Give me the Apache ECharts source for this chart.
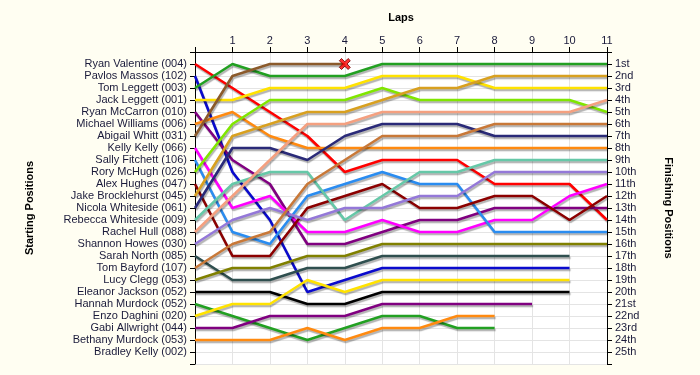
<!DOCTYPE html>
<html><head><meta charset="utf-8">
<script src="https://cdn.jsdelivr.net/npm/echarts@6/dist/echarts.min.js"></script>
<style>html,body{margin:0;padding:0;background:#FFFEF2}#c{width:700px;height:375px}</style>
</head><body><div id="c"></div>
<script>
const laps = [0,1,2,3,4,5,6,7,8,9,10,11];
const startNames = ['Ryan Valentine (004)','Pavlos Massos (102)','Tom Leggett (003)','Jack Leggett (001)','Ryan McCarron (010)','Michael Williams (006)','Abigail Whitt (031)','Kelly Kelly (066)','Sally Fitchett (106)','Rory McHugh (026)','Alex Hughes (047)','Jake Brocklehurst (045)','Nicola Whiteside (061)','Rebecca Whiteside (009)','Rachel Hull (088)','Shannon Howes (030)','Sarah North (085)','Tom Bayford (107)','Lucy Clegg (053)','Eleanor Jackson (052)','Hannah Murdock (052)','Enzo Daghini (020)','Gabi Allwright (044)','Bethany Murdock (053)','Bradley Kelly (002)'];
const finishLabels = ['1st','2nd','3rd','4th','5th','6th','7th','8th','9th','10th','11th','12th','13th','14th','15th','16th','17th','18th','19th','20th','21st','22nd','23rd','24th','25th'];

// positions per lap (index = lap number)
const ryanValentine    = [1,3,5,7,10,9,9,9,11,11,11,14];
const pavlosMassos     = [2,10,14,20,19,18,18,18,18,18,18];
const tomLeggett       = [3,1,2,2,2,1,1,1,1,1,1,1];
const jackLeggett      = [4,4,3,3,3,2,2,2,3,3,3,3];
const ryanMcCarron     = [5,9,11,16,16,15,14,14,13,13,13,13];
const michaelWilliams  = [6,5,7,8,8,8,8,8,8,8,8,8];
const abigailWhitt     = [7,2,1,1,1];
const kellyKelly       = [8,13,12,15,15,14,15,15,14,14,12,11];
const sallyFitchett    = [9,15,16,12,11,10,11,11,15,15,15,15];
const roryMcHugh       = [10,6,4,4,4,3,4,4,4,4,4,5];
const alexHughes       = [11,17,17,13,12,11,13,13,12,12,14,12];
const jakeBrocklehurst = [12,7,6,5,5,4,3,3,2,2,2,2];
const nicolaWhiteside  = [13,8,8,9,7,6,6,6,7,7,7,7];
const rebeccaWhiteside = [14,11,10,10,14,12,10,10,9,9,9,9];
const rachelHull       = [15,12,9,6,6,5,5,5,5,5,5,4];
const shannonHowes     = [16,14,13,14,13,13,12,12,10,10,10,10];
const sarahNorth       = [17,19,19,18,18,17,17,17,17,17,17];
const tomBayford       = [18,16,15,11,9,7,7,7,6,6,6,6];
const lucyClegg        = [19,18,18,17,17,16,16,16,16,16,16,16];
const eleanorJackson   = [20,20,20,21,21,20,20,20,20,20,20];
const hannahMurdock    = [21,22,23,24,23,22,22,23,23];
const enzoDaghini      = [22,21,21,19,20,19,19,19,19,19,19];
const gabiAllwright    = [23,23,22,22,22,21,21,21,21,21];
const bethanyMurdock   = [24,24,24,23,24,23,23,22,22];
const bradleyKelly     = [];

const riderPositions = [ryanValentine,pavlosMassos,tomLeggett,jackLeggett,ryanMcCarron,michaelWilliams,abigailWhitt,kellyKelly,sallyFitchett,roryMcHugh,alexHughes,jakeBrocklehurst,nicolaWhiteside,rebeccaWhiteside,rachelHull,shannonHowes,sarahNorth,tomBayford,lucyClegg,eleanorJackson,hannahMurdock,enzoDaghini,gabiAllwright,bethanyMurdock,bradleyKelly];
const riderColors = ['#FF0000','#0A0ACD','#22A022','#FFE200','#800080','#FF8A10','#8B5A2B','#FF00FF','#2A8CF0','#80E600','#8B0000','#D8A020','#2A2A78','#66C8A8','#F4A080','#9478D8','#2F4F4F','#C87838','#808000','#000000','#22A022','#FFE200','#800080','#FF8A10','#888888'];
const retiredRider = 6; // Abigail Whitt retired (X marker)

const labelFont = {fontFamily:'Liberation Sans, Arial, sans-serif', fontSize:11, color:'#1A1A3A'};
const nameFont = {fontFamily:'Liberation Sans, Arial, sans-serif', fontSize:11, fontWeight:'bold', color:'#000'};
const series = [];
riderPositions.forEach((pos, i) => {
  if (!pos.length) return;
  series.push({
    type:'line', name:startNames[i], yAxisIndex:0, symbol:'none', z: 2,
    data: pos.map((p, k) => [laps[k], p]),
    lineStyle:{color:riderColors[i], width:2.6, shadowColor:'rgba(0,0,0,0.3)', shadowOffsetX:1, shadowOffsetY:2, shadowBlur:1},
    emphasis:{disabled:true}
  });
});
const rp = riderPositions[retiredRider];
series.push({
  type:'scatter', yAxisIndex:0, z:5,
  symbol:'path://M2,0 L5,3 L8,0 L10,2 L7,5 L10,8 L8,10 L5,7 L2,10 L0,8 L3,5 L0,2 Z',
  symbolSize:11,
  itemStyle:{color:'#FF0000', borderColor:'#700000', borderWidth:1},
  data:[[laps[rp.length-1], rp[rp.length-1]]],
  emphasis:{disabled:true}
});

const chart = echarts.init(document.getElementById('c'), null, {renderer:'canvas'});
chart.setOption({
  animation:false,
  backgroundColor:'#FFFEF2',
  grid:{left:195, right:93, top:52, bottom:11, show:true, backgroundColor:'#FFFFFF', borderWidth:0},
  xAxis:{
    type:'value', position:'top', min:0, max:11, interval:1,
    name:'Laps', nameLocation:'middle', nameGap:29, nameTextStyle:nameFont,
    axisLine:{show:true, lineStyle:{color:'#000', width:1}},
    axisTick:{show:true, length:5, lineStyle:{color:'#000'}},
    axisLabel:Object.assign({margin:6, formatter:v => v === 0 ? '' : String(v)}, labelFont),
    splitLine:{show:true, lineStyle:{color:'#E4E4E4', width:1}}
  },
  yAxis:[{
    type:'value', position:'left', inverse:true, min:0, max:26, interval:1,
    name:'Starting Positions', nameLocation:'middle', nameGap:160, nameTextStyle:nameFont,
    axisLine:{show:true, lineStyle:{color:'#000', width:1}},
    axisTick:{show:true, length:5, lineStyle:{color:'#000'}},
    axisLabel:Object.assign({margin:8, formatter:v => startNames[v-1] || ''}, labelFont),
    splitLine:{show:true, lineStyle:{color:'#E4E4E4', width:1}}
  },{
    type:'value', position:'right', inverse:true, min:0, max:26, interval:1,
    name:'Finishing Positions', nameLocation:'middle', nameGap:56, nameRotate:-90, nameTextStyle:nameFont,
    axisLine:{show:true, lineStyle:{color:'#000', width:1}},
    axisTick:{show:true, length:5, lineStyle:{color:'#000'}},
    axisLabel:Object.assign({margin:8, formatter:v => finishLabels[v-1] || ''}, labelFont),
    splitLine:{show:false}
  }],
  series:series
});
</script></body></html>
